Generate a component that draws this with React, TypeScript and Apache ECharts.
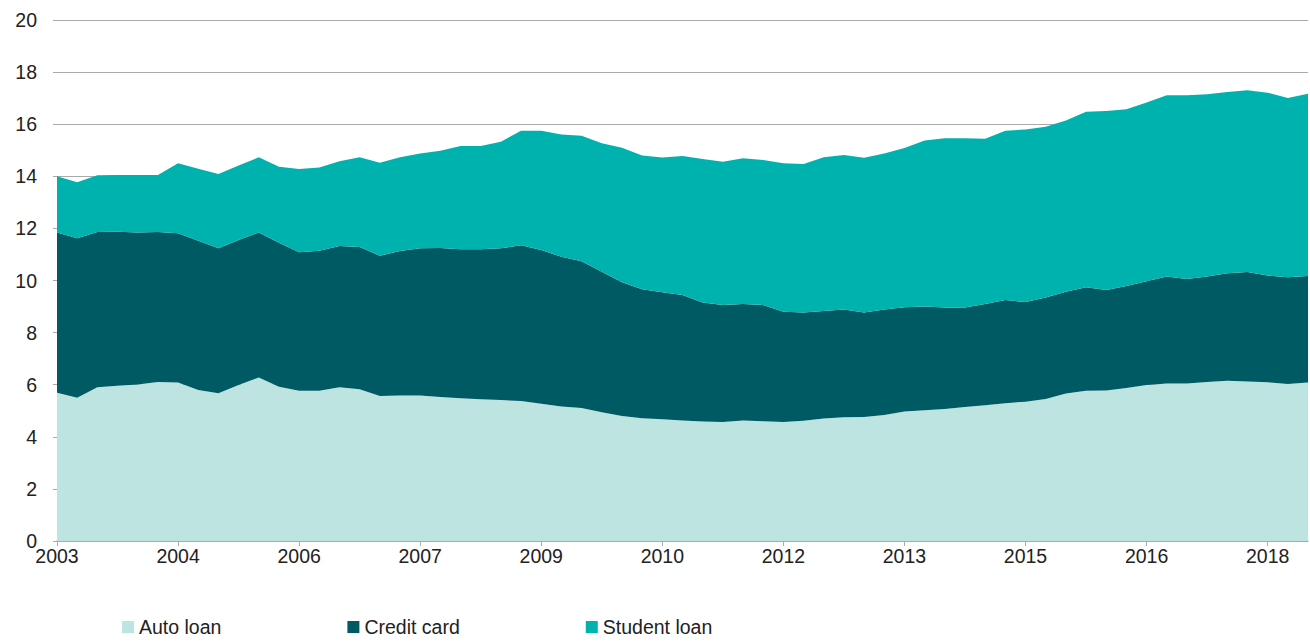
import React, { useEffect, useRef } from "react";
import * as echarts from "echarts";

const quarters: string[] = [
  "2003Q1", "2003Q2", "2003Q3", "2003Q4",
  "2004Q1", "2004Q2", "2004Q3", "2004Q4",
  "2005Q1", "2005Q2", "2005Q3", "2005Q4",
  "2006Q1", "2006Q2", "2006Q3", "2006Q4",
  "2007Q1", "2007Q2", "2007Q3", "2007Q4",
  "2008Q1", "2008Q2", "2008Q3", "2008Q4",
  "2009Q1", "2009Q2", "2009Q3", "2009Q4",
  "2010Q1", "2010Q2", "2010Q3", "2010Q4",
  "2011Q1", "2011Q2", "2011Q3", "2011Q4",
  "2012Q1", "2012Q2", "2012Q3", "2012Q4",
  "2013Q1", "2013Q2", "2013Q3", "2013Q4",
  "2014Q1", "2014Q2", "2014Q3", "2014Q4",
  "2015Q1", "2015Q2", "2015Q3", "2015Q4",
  "2016Q1", "2016Q2", "2016Q3", "2016Q4",
  "2017Q1", "2017Q2", "2017Q3", "2017Q4",
  "2018Q1", "2018Q2", "2018Q3",
];

const autoLoan: number[] = [
  5.69, 5.5, 5.9, 5.96, 6.01, 6.1, 6.08, 5.8, 5.67, 5.99,
  6.28, 5.92, 5.77, 5.77, 5.9, 5.83, 5.57, 5.59, 5.59, 5.53,
  5.48, 5.44, 5.41, 5.37, 5.27, 5.16, 5.11, 4.94, 4.8, 4.71,
  4.67, 4.63, 4.59, 4.57, 4.63, 4.6, 4.57, 4.62, 4.7, 4.75,
  4.76, 4.84, 4.97, 5.02, 5.07, 5.14, 5.21, 5.29, 5.35, 5.45,
  5.66, 5.77, 5.78, 5.87, 5.99, 6.05, 6.05, 6.1, 6.15, 6.12,
  6.09, 6.03, 6.08,
];

const creditCard: number[] = [
  6.15, 6.12, 5.96, 5.91, 5.83, 5.76, 5.73, 5.73, 5.57, 5.56,
  5.56, 5.53, 5.31, 5.37, 5.42, 5.46, 5.38, 5.54, 5.65, 5.72,
  5.72, 5.76, 5.83, 5.98, 5.9, 5.75, 5.63, 5.4, 5.13, 4.95,
  4.88, 4.81, 4.57, 4.49, 4.47, 4.46, 4.23, 4.15, 4.13, 4.14,
  4.01, 4.05, 4.0, 3.98, 3.89, 3.82, 3.89, 3.96, 3.82, 3.9,
  3.91, 3.97, 3.86, 3.92, 3.98, 4.1, 4.01, 4.05, 4.13, 4.21,
  4.1, 4.09, 4.09,
];

const studentLoan: number[] = [
  2.16, 2.15, 2.18, 2.18, 2.21, 2.19, 2.69, 2.76, 2.85, 2.86,
  2.89, 2.92, 3.2, 3.2, 3.26, 3.44, 3.57, 3.6, 3.64, 3.73,
  3.96, 3.96, 4.09, 4.4, 4.58, 4.69, 4.82, 4.93, 5.17, 5.14,
  5.17, 5.34, 5.5, 5.5, 5.59, 5.57, 5.7, 5.7, 5.9, 5.93,
  5.94, 5.99, 6.12, 6.37, 6.5, 6.5, 6.34, 6.5, 6.63, 6.55,
  6.57, 6.74, 6.87, 6.78, 6.86, 6.96, 7.05, 7.0, 6.96, 6.97,
  7.02, 6.89, 7.0,
];

const seriesNames = ["Auto loan", "Credit card", "Student loan"];
const colors = ["#BEE4E1", "#005A64", "#00B2AD"];

export default function App() {
  const ref = useRef<HTMLDivElement>(null);
  useEffect(() => {
    document.body.style.margin = "0";
    if (!ref.current) return;
    const chart = echarts.init(ref.current, undefined, { renderer: "svg" });
    const font = "'Liberation Sans', Arial, sans-serif";
    const mk = (name: string, data: number[], color: string) => ({
      name,
      type: "line",
      stack: "total",
      data,
      symbol: "none",
      showSymbol: false,
      lineStyle: { width: 0, color },
      itemStyle: { color },
      areaStyle: { color, opacity: 1 },
    });
    chart.setOption({
      animation: false,
      color: colors,
      textStyle: { fontFamily: font },
      grid: { left: 57, right: 2, top: 20, bottom: 103, containLabel: false },
      legend: {
        left: 122,
        top: 617,
        padding: 0,
        itemWidth: 12,
        itemHeight: 12,
        itemGap: 126,
        icon: "rect",
        textStyle: { fontSize: 19.5, color: "#222", fontFamily: font },
        data: seriesNames,
      },
      xAxis: {
        type: "category",
        data: quarters,
        boundaryGap: false,
        axisLine: { show: true, lineStyle: { color: "#aaaaaa", width: 1.5 } },
        axisTick: { show: true, interval: 5, length: 5, lineStyle: { color: "#aaaaaa" } },
        axisLabel: {
          interval: 5,
          margin: 5,
          fontSize: 19.5,
          color: "#222",
          fontFamily: font,
          formatter: (v: string) => v.substring(0, 4),
        },
        splitLine: { show: false },
      },
      yAxis: {
        type: "value",
        min: 0,
        max: 20,
        interval: 2,
        axisLine: { show: false },
        axisTick: { show: true, length: 4, lineStyle: { color: "#aaaaaa" } },
        axisLabel: { margin: 20, fontSize: 19.5, color: "#222", fontFamily: font },
        splitLine: { show: true, lineStyle: { color: "#aaaaaa", width: 1 } },
      },
      series: [
        mk(seriesNames[0], autoLoan, colors[0]),
        mk(seriesNames[1], creditCard, colors[1]),
        mk(seriesNames[2], studentLoan, colors[2]),
      ],
    });
    return () => chart.dispose();
  }, []);
  return <div ref={ref} style={{ width: 1310, height: 644 }} />;
}
